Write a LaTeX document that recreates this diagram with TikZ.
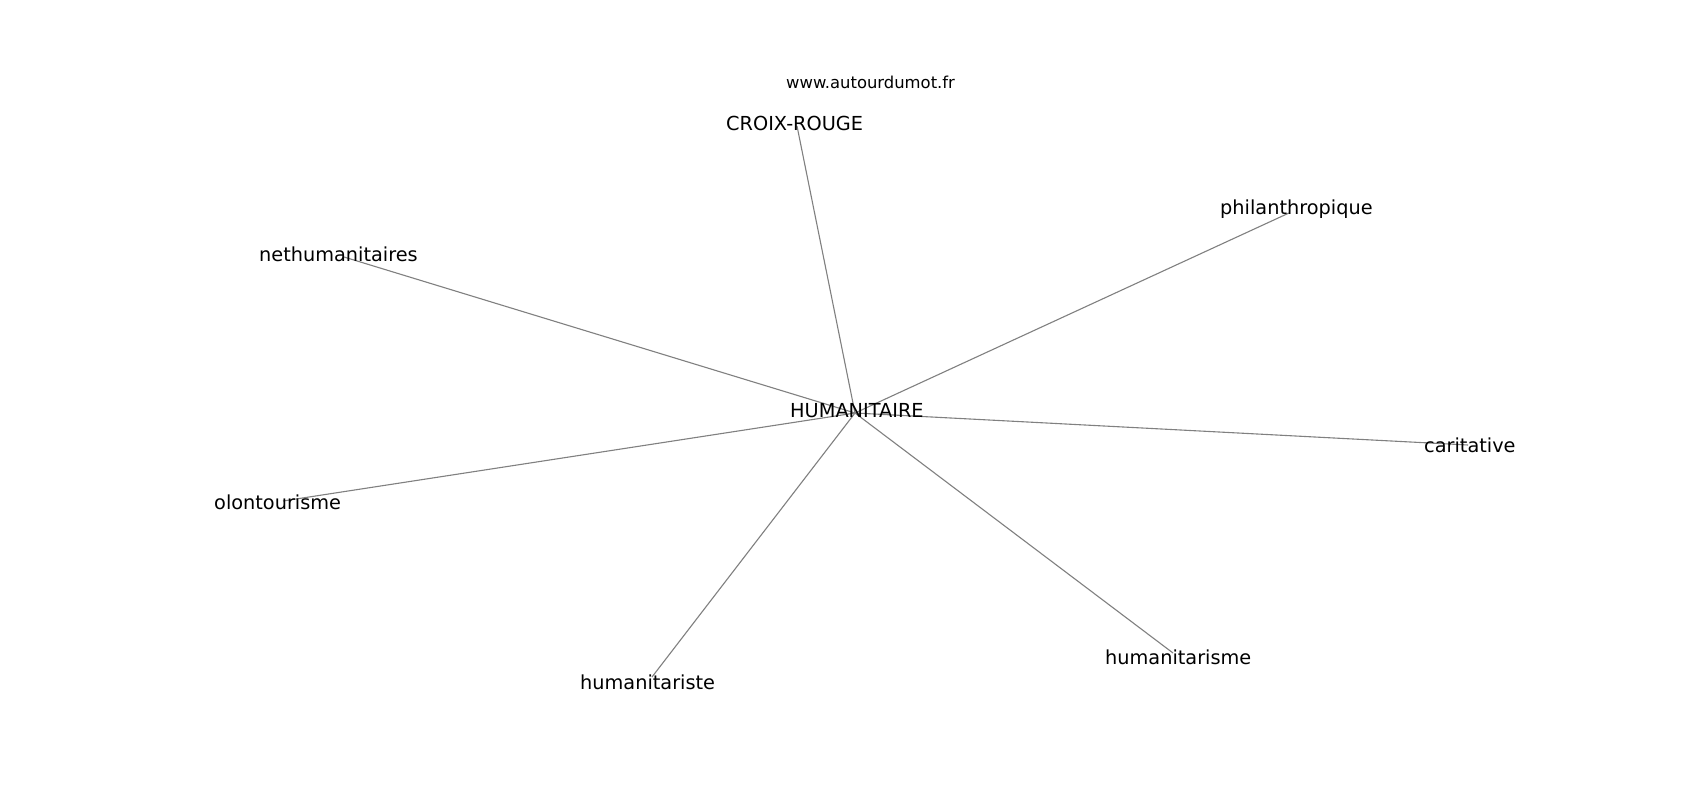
\documentclass[tikz,border=0pt]{standalone}
\usepackage{fontspec}
\setmainfont{DejaVu Sans}
\begin{document}
\begin{tikzpicture}[x=1bp,y=-1bp,
  lbl/.style={anchor=base west, inner sep=0pt, font=\fontsize{19.3bp}{22bp}\selectfont},
  small/.style={anchor=base west, inner sep=0pt, font=\fontsize{16.4bp}{19bp}\selectfont},
  edge/.style={draw=gray, line width=1.1bp}]
\useasboundingbox[fill=white] (0,0) rectangle (1700,800);
% edge end points
\coordinate (hubpt) at (855,413);
\coordinate (pcroix) at (797,126);
\coordinate (pphil) at (1289,213);
\coordinate (pneth) at (344,257);
\coordinate (pcarit) at (1468,445);
\coordinate (pvolo) at (283,501);
\coordinate (phumte) at (652,677);
\coordinate (phumme) at (1173,653);
% edges
\draw[edge] (hubpt) -- (pcroix);
\draw[edge] (hubpt) -- (pphil);
\draw[edge] (hubpt) -- (pneth);
\draw[edge] (hubpt) -- (pcarit);
\draw[edge] (hubpt) -- (pvolo);
\draw[edge] (hubpt) -- (phumte);
\draw[edge] (hubpt) -- (phumme);
% labels
\node[small] (www) at (786,88) {www.autourdumot.fr};
\node[lbl] (hum) at (790,417) {HUMANITAIRE};
\node[lbl] (croix) at (726,130) {CROIX-ROUGE};
\node[lbl] (phil) at (1220,214) {philanthropique};
\node[lbl] (neth) at (259,261) {nethumanitaires};
\node[lbl] (carit) at (1424,452) {caritative};
\node[lbl] (volo) at (214,509) {olontourisme};
\node[lbl] (humte) at (580,689) {humanitariste};
\node[lbl] (humme) at (1105,664) {humanitarisme};
\end{tikzpicture}
\end{document}
